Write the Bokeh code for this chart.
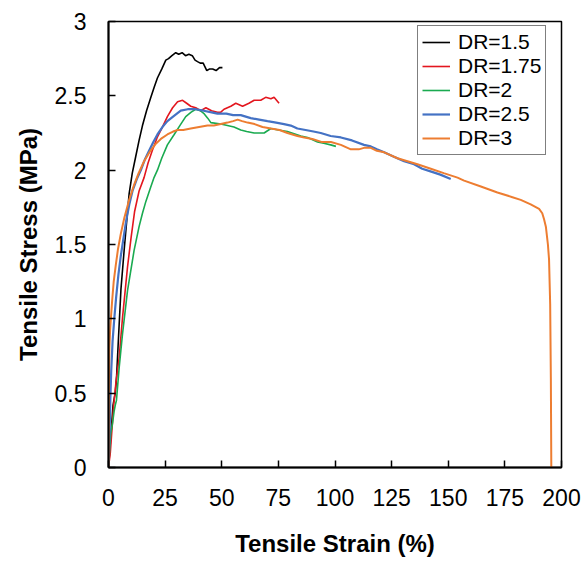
import math
from bokeh.plotting import figure
from bokeh.models import Range1d, FixedTicker, CustomJSTickFormatter, Title, Legend, LegendItem
from bokeh.embed import file_html
from bokeh.resources import INLINE

# ---- data ----
x_ticks = [0, 25, 50, 75, 100, 125, 150, 175, 200]
y_ticks = [0, 0.5, 1, 1.5, 2, 2.5, 3]

dr15_strain = [0, 0.5, 1.2, 2.0, 2.6, 3.0, 3.6, 4.5, 5.5, 6.9, 8.4, 9.1, 10.5, 12.0, 13.5, 15.0,
               16.8, 18.7, 20.2, 21.6, 23.5, 25.3, 26.5, 28.0, 29.7, 31.0, 32.5, 34.0, 35.5, 37.0,
               38.2, 39.3, 40.5, 41.8, 43.4, 44.5, 46.0, 47.5, 49.0, 50.3]
dr15_stress = [0, 0.1, 0.25, 0.42, 0.47, 0.5, 0.62, 0.9, 1.2, 1.46, 1.72, 1.84, 1.98, 2.09, 2.2, 2.3,
               2.4, 2.49, 2.56, 2.62, 2.68, 2.74, 2.75, 2.77, 2.79, 2.78, 2.79, 2.77, 2.78, 2.77,
               2.74, 2.73, 2.72, 2.72, 2.67, 2.68, 2.68, 2.67, 2.69, 2.69]

dr175_strain = [0, 0.8, 1.5, 2.3, 3.2, 4.7, 6.2, 8.4, 10.0, 11.5, 13.5, 15.7, 17.5, 19.3, 21.5, 23.8,
                26.0, 28.3, 30.5, 32.7, 34.5, 36.3, 38.5, 40.7, 43.0, 45.5, 48.1, 49.6, 51.0, 54.0,
                56.2, 59.2, 62.0, 64.3, 67.2, 69.4, 71.7, 73.1, 74.2, 75.3]
dr175_stress = [0, 0.1, 0.25, 0.42, 0.56, 0.74, 1.01, 1.35, 1.55, 1.72, 1.86, 1.95, 2.05, 2.13, 2.22, 2.29,
                2.36, 2.42, 2.46, 2.47, 2.45, 2.43, 2.42, 2.40, 2.42, 2.40, 2.39, 2.39, 2.41, 2.43,
                2.45, 2.43, 2.45, 2.47, 2.47, 2.49, 2.48, 2.49, 2.47, 2.45]

dr2_strain = [0, 0.5, 1.0, 1.8, 2.5, 3.0, 3.5, 4.7, 6.2, 8.4, 11.3, 13.5, 15.0, 16.5, 18.5, 20.1,
              21.6, 23.5, 26.0, 29.0, 31.5, 34.1, 36.5, 38.5, 40.5, 42.2, 43.8, 45.2, 49.6, 52.5,
              55.4, 58.4, 61.0, 64.3, 66.5, 68.7, 71.7, 75.0, 79.0, 84.9, 87.9, 92.3, 95.5, 98.1, 100.4]
dr2_stress = [0, 0.12, 0.23, 0.3, 0.38, 0.42, 0.45, 0.67, 0.9, 1.19, 1.46, 1.62, 1.71, 1.79, 1.88, 1.95,
              2.0, 2.08, 2.17, 2.24, 2.30, 2.36, 2.39, 2.41, 2.40, 2.38, 2.35, 2.32, 2.31, 2.30,
              2.29, 2.27, 2.26, 2.25, 2.25, 2.25, 2.28, 2.27, 2.26, 2.23, 2.22, 2.19, 2.18, 2.17, 2.16]

dr25_strain = [0, 0.4, 0.8, 1.2, 1.8, 2.6, 3.4, 4.4, 5.4, 6.5, 7.8, 9.2, 10.6, 12.5, 14.3, 16.0,
               17.9, 19.8, 21.6, 23.8, 26.0, 28.5, 31.9, 35.0, 38.5, 42.0, 45.0, 48.1, 52.0, 55.0,
               58.4, 62.8, 66.5, 70.2, 74.0, 77.5, 80.5, 83.4, 87.0, 90.5, 93.7, 98.1, 102.6, 107.5,
               112.8, 115.8, 118.5, 121.7, 126.0, 130.5, 134.9, 138.5, 142.5, 146.5, 151.1]
dr25_stress = [0, 0.2, 0.45, 0.65, 0.85, 1.01, 1.15, 1.3, 1.42, 1.53, 1.66, 1.77, 1.86, 1.94, 2.0, 2.07,
               2.13, 2.19, 2.24, 2.29, 2.33, 2.36, 2.40, 2.41, 2.41, 2.40, 2.39, 2.38, 2.38, 2.37,
               2.37, 2.35, 2.34, 2.33, 2.32, 2.31, 2.30, 2.28, 2.27, 2.26, 2.25, 2.23, 2.22, 2.20,
               2.17, 2.16, 2.14, 2.12, 2.09, 2.06, 2.04, 2.01, 1.99, 1.97, 1.94]

dr3_strain = [0, 0.1, 0.2, 0.4, 0.7, 1.0, 1.6, 2.3, 3.2, 4.2, 5.4, 7.0, 9.1, 11.5, 13.3, 15.7,
              18.5, 21.0, 23.1, 26.0, 28.5, 30.5, 33.0, 36.3, 40.0, 43.7, 46.5, 49.6, 52.5, 55.0,
              57.0, 59.0, 61.4, 64.5, 68.0, 71.7, 75.5, 79.0, 83.4, 86.4, 90.0, 94.0, 98.2, 102.6,
              107.0, 110.5, 112.8, 115.8, 118.5, 121.7, 127.6, 132.0, 136.4, 142.3, 148.0, 154.1,
              157.0, 164.4, 171.7, 178.0, 182.0, 186.4, 190.1, 191.5, 192.3, 193.1, 194.0, 194.5,
              195.0, 195.3, 195.5]
dr3_stress = [0, 0.3, 0.6, 0.8, 0.92, 0.99, 1.12, 1.25, 1.36, 1.47, 1.57, 1.68, 1.80, 1.91, 1.98, 2.06,
              2.13, 2.18, 2.21, 2.24, 2.26, 2.27, 2.27, 2.28, 2.29, 2.30, 2.30, 2.31, 2.32, 2.33,
              2.34, 2.33, 2.32, 2.31, 2.29, 2.28, 2.27, 2.25, 2.23, 2.22, 2.21, 2.19, 2.19, 2.17,
              2.14, 2.14, 2.15, 2.15, 2.13, 2.12, 2.08, 2.06, 2.04, 2.01, 1.98, 1.95,
              1.93, 1.89, 1.85, 1.82, 1.80, 1.77, 1.74, 1.71, 1.67, 1.62, 1.5, 1.4,
              1.1, 0.6, 0]

series_names = ["DR=1.5", "DR=1.75", "DR=2", "DR=2.5", "DR=3"]
series_colors = ["#000000", "#E3161E", "#1AAA50", "#4472C4", "#ED7D31"]

FONT = "Liberation Sans"

p = figure(width=584, height=563, output_backend="svg", toolbar_location=None,
           x_range=Range1d(0, 200), y_range=Range1d(0, 3),
           min_border_left=108, min_border_right=23, min_border_top=21, min_border_bottom=96)

p.xgrid.visible = False
p.ygrid.visible = False
p.outline_line_color = "black"
p.outline_line_width = 1.5
p.background_fill_color = "white"
p.border_fill_color = "white"

fmt = CustomJSTickFormatter(code="return String(tick);")
for ax, ticks in ((p.xaxis[0], x_ticks), (p.yaxis[0], y_ticks)):
    ax.ticker = FixedTicker(ticks=ticks)
    ax.formatter = fmt
    ax.minor_tick_line_color = None
    ax.major_tick_in = 7
    ax.major_tick_out = 0
    ax.major_tick_line_width = 1.5
    ax.major_tick_line_color = "black"
    ax.axis_line_width = 2
    ax.axis_line_color = "black"
    ax.major_label_text_font = FONT
    ax.major_label_text_font_size = "23px"
    ax.major_label_text_color = "black"

p.xaxis.major_label_standoff = 21
p.yaxis.major_label_standoff = 22

p.xaxis.axis_label = "Tensile Strain (%)"
p.xaxis.axis_label_text_font = FONT
p.xaxis.axis_label_text_font_size = "24px"
p.xaxis.axis_label_text_font_style = "bold"
p.xaxis.axis_label_text_color = "black"
p.xaxis.axis_label_standoff = 21

ytitle = Title(text="Tensile Stress (MPa)", align="center", offset=0,
               text_font=FONT, text_font_size="24px", text_font_style="bold",
               text_color="black", standoff=19)
p.add_layout(ytitle, "left")

all_x = [dr15_strain, dr175_strain, dr2_strain, dr25_strain, dr3_strain]
all_y = [dr15_stress, dr175_stress, dr2_stress, dr25_stress, dr3_stress]
widths = [1.6, 1.6, 1.6, 2.2, 2.0]

items = []
for name, col, xs, ys, w in zip(series_names, series_colors, all_x, all_y, widths):
    r = p.line(xs, ys, line_color=col, line_width=w)
    items.append(LegendItem(label=name, renderers=[r]))

legend = Legend(items=items, location=(309, 312))
legend.label_text_font = FONT
legend.label_text_font_size = "21px"
legend.label_text_color = "black"
legend.border_line_color = "black"
legend.border_line_width = 1.5
legend.padding = 4
legend.spacing = 0
legend.margin = 0
legend.glyph_width = 28
legend.label_standoff = 8
legend.background_fill_alpha = 1.0
p.add_layout(legend)

open("out.html", "w").write(file_html(p, INLINE))
